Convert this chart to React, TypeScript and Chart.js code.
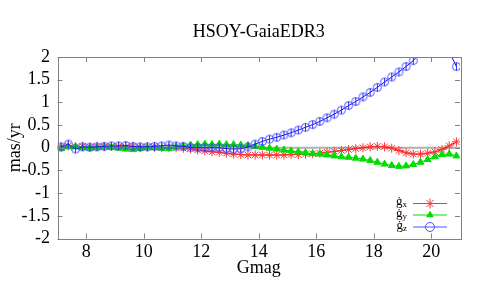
import React, { useEffect, useRef } from 'react';
import { Chart, registerables } from 'chart.js';

Chart.register(...registerables);

const TITLE = 'HSOY-GaiaEDR3';
const X_LABEL = 'Gmag';
const Y_LABEL = 'mas/yr';

const X_TICKS = [8, 10, 12, 14, 16, 18, 20];
const Y_TICKS = [-2, -1.5, -1, -0.5, 0, 0.5, 1, 1.5, 2];

const GMAG = [
  7.125, 7.375, 7.625, 7.875, 8.125, 8.375, 8.625, 8.875, 9.125, 9.375,
  9.625, 9.875, 10.125, 10.375, 10.625, 10.875, 11.125, 11.375, 11.625, 11.875,
  12.125, 12.375, 12.625, 12.875, 13.125, 13.375, 13.625, 13.875, 14.125, 14.375,
  14.625, 14.875, 15.125, 15.375, 15.625, 15.875, 16.125, 16.375, 16.625, 16.875,
  17.125, 17.375, 17.625, 17.875, 18.125, 18.375, 18.625, 18.875, 19.125, 19.375,
  19.625, 19.875, 20.125, 20.375, 20.625, 20.875,
];

const GX = [
  0.02, 0.04, 0.02, 0.03, 0.02, 0.03, 0.02, 0.03, 0.03, 0.02,
  0.03, 0.01, 0.02, 0.01, 0.0, 0.0, 0.0, -0.01, -0.02, -0.05,
  -0.07, -0.09, -0.1, -0.12, -0.14, -0.15, -0.16, -0.16, -0.16, -0.16,
  -0.16, -0.16, -0.15, -0.15, -0.14, -0.13, -0.12, -0.1, -0.08, -0.06,
  -0.04, -0.02, 0.0, 0.02, 0.03, 0.02, -0.01, -0.06, -0.11, -0.14,
  -0.14, -0.12, -0.09, -0.04, 0.04, 0.13,
];

const GY = [
  -0.02, 0.02, 0.03, 0.0, -0.01, 0.0, 0.02, 0.01, -0.01, -0.03,
  -0.04, -0.02, 0.0, 0.01, -0.01, -0.02, 0.02, 0.04, 0.06, 0.07,
  0.08, 0.07, 0.08, 0.07, 0.07, 0.06, 0.05, 0.03, 0.01, -0.01,
  -0.03, -0.05, -0.07, -0.09, -0.11, -0.13, -0.14, -0.16, -0.18, -0.2,
  -0.21, -0.23, -0.25, -0.28, -0.32, -0.36, -0.39, -0.41, -0.4, -0.37,
  -0.32, -0.26, -0.2, -0.15, -0.14, -0.18,
];

const GZ = [
  0.02, 0.08, -0.03, 0.02, 0.01, 0.02, 0.03, 0.04, 0.04, 0.05,
  0.03, 0.02, 0.02, 0.03, 0.04, 0.06, 0.04, 0.03, 0.01, 0.0,
  0.0, 0.0, 0.0, -0.02, -0.03, -0.02, 0.02, 0.08, 0.14, 0.19,
  0.23, 0.28, 0.33, 0.39, 0.45, 0.51, 0.58, 0.66, 0.74, 0.83,
  0.93, 1.02, 1.12, 1.22, 1.33, 1.45, 1.56, 1.67, 1.79, 1.92,
  2.1, 2.25, 2.3, 2.2, 2.12, 1.79,
];

const SERIES_NAMES = ['x', 'y', 'z'];
const RED = '#ff3030';
const GREEN = '#00dd00';
const BLUE = '#5050ff';
const FONT = "'Liberation Serif', 'Times New Roman', serif";

function makeCirclePoint(): HTMLCanvasElement {
  const c = document.createElement('canvas');
  c.width = 11;
  c.height = 11;
  const g = c.getContext('2d')!;
  g.strokeStyle = BLUE;
  g.lineWidth = 1;
  g.beginPath();
  g.arc(5.5, 5.5, 4, 0, Math.PI * 2);
  g.stroke();
  g.strokeStyle = '#2a2aff';
  g.beginPath();
  g.moveTo(5.5, 1.5);
  g.lineTo(5.5, 9.5);
  g.stroke();
  return c;
}

function drawMarker(ctx: CanvasRenderingContext2D, kind: string, x: number, y: number) {
  ctx.save();
  ctx.lineWidth = 1;
  if (kind === 'star') {
    const r = 5;
    ctx.strokeStyle = RED;
    ctx.beginPath();
    ctx.moveTo(x - r, y); ctx.lineTo(x + r, y);
    ctx.moveTo(x, y - r); ctx.lineTo(x, y + r);
    const d = r * 0.7071;
    ctx.moveTo(x - d, y - d); ctx.lineTo(x + d, y + d);
    ctx.moveTo(x - d, y + d); ctx.lineTo(x + d, y - d);
    ctx.stroke();
  } else if (kind === 'triangle') {
    const r = 4.5;
    ctx.fillStyle = GREEN;
    ctx.beginPath();
    ctx.moveTo(x, y - r);
    ctx.lineTo(x + r * 0.866, y + r * 0.5);
    ctx.lineTo(x - r * 0.866, y + r * 0.5);
    ctx.closePath();
    ctx.fill();
  } else {
    ctx.strokeStyle = BLUE;
    ctx.beginPath();
    ctx.arc(x, y, 4.5, 0, Math.PI * 2);
    ctx.stroke();
  }
  ctx.restore();
}

const framePlugin = {
  id: 'frame',
  beforeDatasetsDraw(chart: any) {
    const { ctx, chartArea: a, scales } = chart;
    const y0 = scales.y.getPixelForValue(0);
    ctx.save();
    ctx.strokeStyle = '#b0b0b0';
    ctx.lineWidth = 2;
    ctx.beginPath();
    ctx.moveTo(a.left, y0);
    ctx.lineTo(a.right, y0);
    ctx.stroke();
    ctx.restore();
  },
  afterDraw(chart: any) {
    const { ctx, chartArea: a, scales } = chart;
    ctx.save();
    ctx.strokeStyle = '#808080';
    ctx.lineWidth = 1;
    ctx.strokeRect(Math.round(a.left) + 0.5, Math.round(a.top) + 0.5, Math.round(a.right - a.left), Math.round(a.bottom - a.top));
    ctx.beginPath();
    for (const v of X_TICKS) {
      const px = Math.round(scales.x.getPixelForValue(v)) + 0.5;
      ctx.moveTo(px, a.bottom); ctx.lineTo(px, a.bottom - 5);
      ctx.moveTo(px, a.top); ctx.lineTo(px, a.top + 5);
    }
    for (const v of Y_TICKS) {
      const py = Math.round(scales.y.getPixelForValue(v)) + 0.5;
      ctx.moveTo(a.left, py); ctx.lineTo(a.left + 5, py);
      ctx.moveTo(a.right, py); ctx.lineTo(a.right - 5, py);
    }
    ctx.stroke();

    // title
    ctx.fillStyle = '#000';
    ctx.font = `18px ${FONT}`;
    ctx.textAlign = 'center';
    ctx.textBaseline = 'alphabetic';
    ctx.fillText(TITLE, (a.left + a.right) / 2, 37);

    // legend
    const kinds = ['star', 'triangle', 'circle'];
    const colors = [RED, GREEN, BLUE];
    const rows = [a.bottom - 35.5, a.bottom - 24, a.bottom - 12];
    for (let i = 0; i < 3; i++) {
      const yy = rows[i];
      ctx.fillStyle = '#000';
      ctx.textAlign = 'right';
      ctx.textBaseline = 'alphabetic';
      ctx.font = `9px ${FONT}`;
      ctx.fillText(SERIES_NAMES[i], a.right - 53, yy + 4);
      const sw = ctx.measureText(SERIES_NAMES[i]).width;
      ctx.font = `13px ${FONT}`;
      ctx.fillText('\u0121', a.right - 53 - sw, yy + 2);
      ctx.strokeStyle = colors[i];
      ctx.lineWidth = 1;
      ctx.beginPath();
      ctx.moveTo(a.right - 47, yy + 0.5);
      ctx.lineTo(a.right - 13, yy + 0.5);
      ctx.stroke();
      drawMarker(ctx, kinds[i], a.right - 30, yy + 0.5);
    }
    ctx.restore();
  },
};

export default function App() {
  const ref = useRef<HTMLCanvasElement | null>(null);

  useEffect(() => {
    document.body.style.margin = '0';
    const canvas = ref.current;
    if (!canvas) return;
    const circlePt = makeCirclePoint();
    const pts = (ys: number[]) => GMAG.map((x, i) => ({ x, y: ys[i] }));
    const chart = new Chart(canvas, {
      type: 'line',
      data: {
        datasets: [
          {
            label: 'gz',
            data: pts(GZ),
            borderColor: '#1010e0',
            borderWidth: 1,
            pointStyle: circlePt as any,
            pointRadius: 5,
            pointBackgroundColor: 'transparent',
            pointBorderColor: BLUE,
            tension: 0,
            clip: 0 as any,
          },
          {
            label: 'gy',
            data: pts(GY),
            borderColor: '#00c000',
            borderWidth: 1,
            pointStyle: 'triangle',
            pointRadius: 4,
            pointBorderWidth: 1,
            pointBackgroundColor: GREEN,
            pointBorderColor: GREEN,
            tension: 0,
          },
          {
            label: 'gx',
            data: pts(GX),
            borderColor: '#e00000',
            borderWidth: 1,
            pointStyle: 'star',
            pointRadius: 4.5,
            pointBorderWidth: 1,
            pointBackgroundColor: RED,
            pointBorderColor: RED,
            tension: 0,
          },
        ],
      },
      options: {
        animation: false,
        responsive: false,
        events: [],
        layout: { padding: { top: 57, right: 20, left: 0, bottom: 0 } },
        plugins: {
          legend: { display: false },
          tooltip: { enabled: false },
          title: { display: false },
        },
        scales: {
          x: {
            type: 'linear',
            min: 7,
            max: 21,
            grid: { display: false, drawTicks: false },
            border: { display: false },
            afterBuildTicks: (s: any) => { s.ticks = X_TICKS.map((v) => ({ value: v })); },
            afterFit: (s: any) => { s.height = 49.5; },
            ticks: {
              color: '#000',
              font: { family: FONT, size: 18 },
              padding: 3,
              maxRotation: 0,
              autoSkip: false,
              callback: (v: any) => String(v),
            },
            title: {
              display: true,
              text: X_LABEL,
              color: '#000',
              font: { family: FONT, size: 18 },
              padding: { top: 0, bottom: 9 },
            },
          },
          y: {
            type: 'linear',
            min: -2,
            max: 2,
            grid: { display: false, drawTicks: false },
            border: { display: false },
            afterBuildTicks: (s: any) => { s.ticks = Y_TICKS.map((v) => ({ value: v })); },
            afterFit: (s: any) => { s.width = 57.5; },
            ticks: {
              color: '#000',
              font: { family: FONT, size: 18 },
              padding: 7.5,
              autoSkip: false,
              callback: (v: any) => String(v),
            },
            title: {
              display: true,
              text: Y_LABEL,
              color: '#000',
              font: { family: FONT, size: 18 },
              padding: { top: 4.2, bottom: 0 },
            },
          },
        },
      },
      plugins: [framePlugin],
    });
    return () => chart.destroy();
  }, []);

  return (
    <div style={{ width: 480, height: 288 }}>
      <canvas ref={ref} width={480} height={288} />
    </div>
  );
}
